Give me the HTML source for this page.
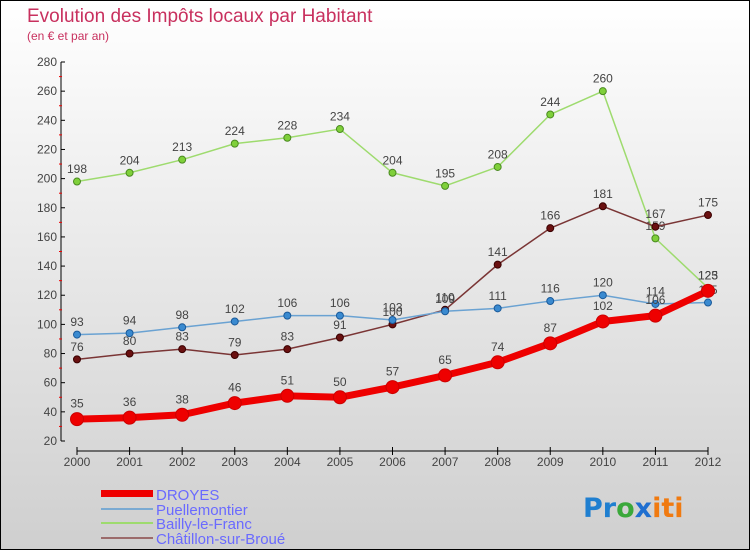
<!DOCTYPE html>
<html><head><meta charset="utf-8"><style>
html,body{margin:0;padding:0}
body{width:750px;height:550px;overflow:hidden;font-family:"Liberation Sans",sans-serif}
#wrap{position:relative;width:748px;height:548px;border:1px solid #000;background:linear-gradient(#ffffff,#cfcfcf)}
svg{position:absolute;left:0;top:0}
</style></head><body>
<div id="wrap">
<svg id="chart" width="750" height="550">
<text x="26" y="21" font-size="19" fill="#c8305e">Evolution des Impôts locaux par Habitant</text>
<text x="26" y="39" font-size="12" fill="#c8305e">(en € et par an)</text>
<g id="axes"></g><g id="series"></g>
<g>
<rect x="100" y="489" width="52" height="7" fill="#e00"/>
<text x="155" y="499" font-size="15" fill="#6a6aff">DROYES</text>
<line x1="100" x2="152" y1="508" y2="508" stroke="#7aaad2" stroke-width="2"/>
<text x="155" y="514" font-size="15" fill="#6a6aff">Puellemontier</text>
<line x1="100" x2="152" y1="522" y2="522" stroke="#9edb6e" stroke-width="2"/>
<text x="155" y="528" font-size="15" fill="#6a6aff">Bailly-le-Franc</text>
<line x1="100" x2="152" y1="537" y2="537" stroke="#9b6b6b" stroke-width="2"/>
<text x="155" y="543" font-size="15" fill="#6a6aff">Châtillon-sur-Broué</text>
</g>
<text x="582" y="516" font-size="27" font-weight="bold" font-family="'DejaVu Sans',sans-serif"><tspan fill="#1f7fd0">Pr</tspan><tspan fill="#3aa83a">o</tspan><tspan fill="#1f6fd0">x</tspan><tspan fill="#f07a10">iti</tspan></text>
</svg>
</div>
<script>
const years=[2000,2001,2002,2003,2004,2005,2006,2007,2008,2009,2010,2011,2012];
const yTicks=[20,40,60,80,100,120,140,160,180,200,220,240,260,280];
const droyes=[35,36,38,46,51,50,57,65,74,87,102,106,123];
const puellemontier=[93,94,98,102,106,106,103,109,111,116,120,114,115];
const bailly=[198,204,213,224,228,234,204,195,208,244,260,159,125];
const chatillon=[76,80,83,79,83,91,100,110,141,166,181,167,175];
const NS="http://www.w3.org/2000/svg";
function X(i){return 76+i*(707-76)/(years.length-1);}
function Y(v){return 440-(v-20)*(440-61)/260;}
function mk(tag,attrs,parent){const e=document.createElementNS(NS,tag);for(const k in attrs)e.setAttribute(k,attrs[k]);parent.appendChild(e);return e;}
const ax=document.getElementById('axes');
let l=mk('line',{x1:60,x2:60,y1:61,y2:440,stroke:'#000'},ax);


l=mk('line',{x1:76,x2:707,y1:450,y2:450,stroke:'#000'},ax);


yTicks.forEach((v,i)=>{
 mk('line',{x1:60,x2:64,y1:Y(v),y2:Y(v),stroke:'#000'},ax);
 if(i<yTicks.length-1)mk('line',{x1:58,x2:61,y1:Y(v+10),y2:Y(v+10),stroke:'#e00'},ax);
 const t=mk('text',{x:56,y:Y(v)+4,'font-size':12,fill:'#444','text-anchor':'end'},ax);
 t.textContent=v;
 
 
});
years.forEach((y,i)=>{
 mk('line',{x1:X(i),x2:X(i),y1:446,y2:454,stroke:'#000'},ax);
 const t=mk('text',{x:X(i),y:465,'font-size':12,fill:'#444','text-anchor':'middle'},ax);
 t.textContent=y;
 
 
});
const sg=document.getElementById('series');
function draw(data,name,color,w,r,fill,stroke){
 const g=mk('g',{},sg);
 
 
 const p=mk('polyline',{points:data.map((v,i)=>X(i)+','+Y(v)).join(' '),fill:'none',stroke:color,'stroke-width':w,'stroke-linejoin':'round'},g);
 
 
 data.forEach((v,i)=>{
  const c=mk('circle',{cx:X(i),cy:Y(v),r:r,fill:fill,stroke:stroke,'stroke-width':1},g);
  
  
  const t=mk('text',{x:X(i),y:Y(v)-r-5,'font-size':12,fill:'#444','text-anchor':'middle'},g);
  t.textContent=v;
  
  
 });
}
draw(bailly,'bailly','#9edb6e',1.5,3.5,'#7fd03a','#4a8a20');
draw(chatillon,'chatillon','#7a3535',1.5,3.5,'#6a1010','#3a0000');
draw(puellemontier,'puellemontier','#6aa2d2',1.5,3.5,'#3a8ad0','#1a5a9a');
draw(droyes,'droyes','#ee0000',7,6.5,'#ee0000','#cc0000');
</script>
</body></html>
